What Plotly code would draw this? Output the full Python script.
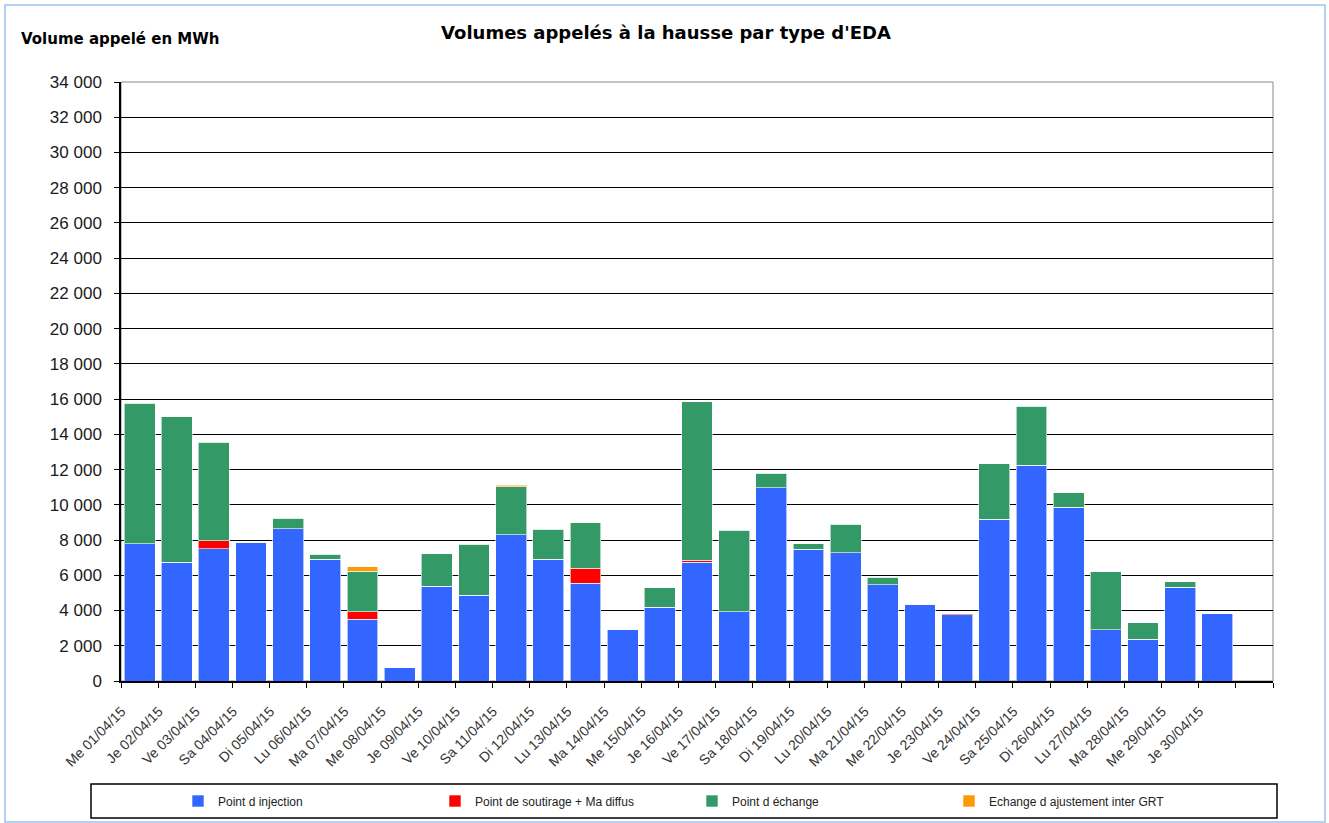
import plotly.graph_objects as go

days = ["Me 01/04/15", "Je 02/04/15", "Ve 03/04/15", "Sa 04/04/15", "Di 05/04/15",
        "Lu 06/04/15", "Ma 07/04/15", "Me 08/04/15", "Je 09/04/15", "Ve 10/04/15",
        "Sa 11/04/15", "Di 12/04/15", "Lu 13/04/15", "Ma 14/04/15", "Me 15/04/15",
        "Je 16/04/15", "Ve 17/04/15", "Sa 18/04/15", "Di 19/04/15", "Lu 20/04/15",
        "Ma 21/04/15", "Me 22/04/15", "Je 23/04/15", "Ve 24/04/15", "Sa 25/04/15",
        "Di 26/04/15", "Lu 27/04/15", "Ma 28/04/15", "Me 29/04/15", "Je 30/04/15"]

injection = [7780, 6750, 7500, 7870, 8650, 6920, 3500, 740, 5370, 4860,
             8290, 6920, 5560, 2900, 4180, 6750, 3940, 10970, 7490, 7270,
             5470, 4350, 3750, 9180, 12240, 9860, 2900, 2380, 5320, 3820]
soutirage = [0, 0, 450, 0, 0, 0, 430, 0, 0, 0,
             0, 0, 850, 0, 0, 100, 0, 0, 0, 0,
             0, 0, 80, 0, 0, 0, 0, 0, 0, 0]
echange = [7980, 8250, 5600, 0, 580, 280, 2290, 0, 1840, 2910,
           2740, 1700, 2580, 0, 1120, 9000, 4610, 830, 290, 1620,
           420, 0, 0, 3140, 3350, 830, 3310, 930, 300, 0]
ajustement = [0, 0, 0, 0, 0, 0, 265, 0, 0, 0,
              95, 0, 0, 0, 0, 0, 0, 0, 0, 0,
              0, 0, 0, 0, 0, 0, 0, 0, 0, 0]

series = [
    ("Point d injection", injection, "#3366FF"),
    ("Point de soutirage + Ma diffus", soutirage, "#FF0000"),
    ("Point d échange", echange, "#339966"),
    ("Echange d ajustement inter GRT", ajustement, "#FF9900"),
]

fig = go.Figure()
for name, vals, col in series:
    fig.add_trace(go.Bar(x=days, y=vals, name=name, marker_color=col,
                         marker_line=dict(color="rgba(255,255,255,0.6)", width=1)))

# extra empty slot at the right, like the original
cats = days + [" "]

W, H = 1329, 823
L, R, T, B = 121, 1273, 82, 681   # plot area in pixels
pw, ph = R - L, B - T


def px(x):
    return (x - L) / pw


def py(y):
    return (B - y) / ph


fig.update_layout(
    width=W, height=H,
    barmode="stack", bargap=0.17,
    plot_bgcolor="white", paper_bgcolor="white",
    font=dict(family="Liberation Sans, Arial", size=13, color="#1a1a1a"),
    separators=", ",
    margin=dict(l=L, r=W - R, t=T, b=H - B, autoexpand=False),
    title=dict(text="<b>Volumes appelés à la hausse par type d'EDA</b>",
               x=px(666), xanchor="center", xref="paper", y=1 - 33 / H, yanchor="middle",
               font=dict(family="DejaVu Sans", size=18, color="black")),
    showlegend=True,
    legend=dict(orientation="h", traceorder="normal", x=px(692), xanchor="center",
                y=py(801), yanchor="middle", bgcolor="rgba(0,0,0,0)",
                entrywidth=212, font=dict(size=12, color="#222")),
    xaxis=dict(type="category", categoryorder="array", categoryarray=cats,
               range=[-0.5, 30.5], tickson="boundaries", ticks="outside",
               ticklen=5, tickcolor="black", tickangle=-45,
               ticklabelstandoff=15, ticklabelshift=-18,
               showline=True, linecolor="black", linewidth=1.5,
               showgrid=False, tickfont=dict(size=14, color="#333")),
    yaxis=dict(range=[0, 34000], dtick=2000, tickformat=",d",
               showgrid=True, gridcolor="black", gridwidth=1.2,
               ticks="outside", ticklen=5, tickcolor="black",
               ticklabelstandoff=9,
               showline=True, linecolor="black", linewidth=1.5,
               zeroline=False, tickfont=dict(size=17, color="#1a1a1a")),
)

# plot area frame (grey), legend box and outer chart border
fig.add_shape(type="rect", xref="paper", yref="paper", x0=0, x1=1, y0=0, y1=1,
              line=dict(color="#888", width=1), layer="below")
fig.add_shape(type="rect", xref="paper", yref="paper",
              x0=px(91), x1=px(1277), y0=py(818), y1=py(784),
              line=dict(color="black", width=1.5))
fig.add_shape(type="rect", xref="paper", yref="paper",
              x0=px(5), x1=px(1325), y0=py(822), y1=py(5),
              line=dict(color="#9DC3F0", width=1.5))

fig.add_annotation(text="<b>Volume appelé en MWh</b>", xref="paper", yref="paper",
                   x=px(19), y=py(39), xanchor="left", yanchor="middle",
                   showarrow=False,
                   font=dict(family="DejaVu Sans", size=15, color="black"))

fig.write_html("out.html", config={"displayModeBar": False},
               post_script="document.body.style.margin='0';")
